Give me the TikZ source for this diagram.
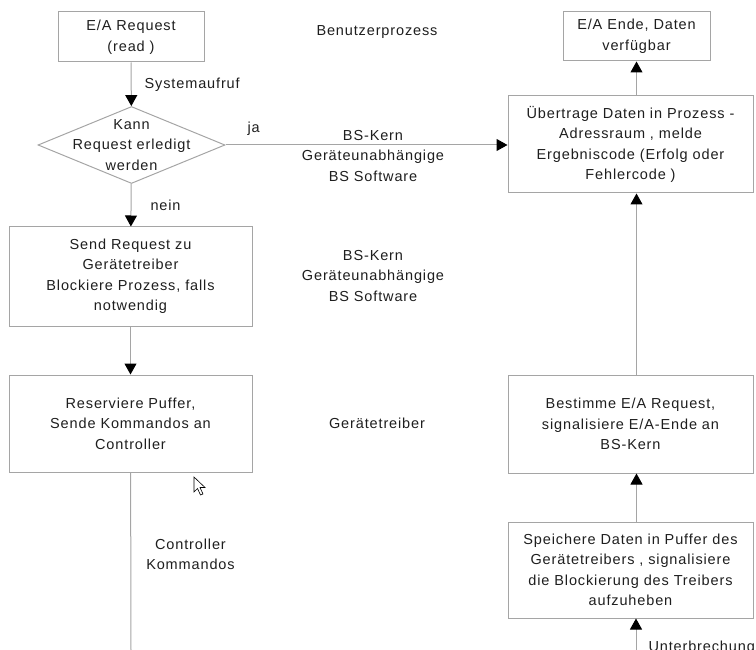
\documentclass[tikz,border=0pt]{standalone}
\usepackage{fontspec}
\setmainfont[LetterSpace=6]{Liberation Sans}
\usetikzlibrary{shapes.geometric,arrows.meta}
\definecolor{linegray}{RGB}{165,165,165}
\definecolor{textgray}{RGB}{30,30,30}
\begin{document}
\begin{tikzpicture}[x=1pt, y=-1pt, line width=1pt,
    >={Triangle[width=12pt,length=11pt,color=black]},
    every node/.style={text=textgray, font=\fontsize{14.5}{20.5}\selectfont, align=center, inner sep=0pt},
    box/.style={draw=linegray, rectangle},
    decision/.style={draw=linegray, diamond, minimum width=187pt, minimum height=77pt},
    label/.style={draw=none}]
    \useasboundingbox (0,0) rectangle (756,650);

    % linke Spalte
    \node[box, minimum width=146pt, minimum height=50pt] (req) at (131,37) {E/A Request\\(read )};
    \node[decision] (ask) at (131.5,145) {};
    \node (asktext) at (ask) {Kann\\Request erledigt\\werden};
    \node[box, minimum width=243pt, minimum height=99pt] (send) at (130.5,276.5) {Send Request zu\\Gerätetreiber\\Blockiere Prozess, falls\\notwendig};
    \node[box, minimum width=243pt, minimum height=97pt] (res) at (130.5,423.5) {Reserviere Puffer,\\Sende Kommandos an\\Controller};
    \coordinate (ctl) at (131,650);

    % rechte Spalte
    \node[box, minimum width=147pt, minimum height=49pt] (ende) at (636.5,36.5) {E/A Ende, Daten\\verfügbar};
    \node[box, minimum width=245pt, minimum height=97pt] (ueb) at (630.5,144.5) {Übertrage Daten in Prozess -\\Adressraum , melde\\Ergebniscode (Erfolg oder\\Fehlercode )};
    \node[box, minimum width=245pt, minimum height=98pt] (best) at (630.5,424) {Bestimme E/A Request,\\signalisiere E/A-Ende an\\BS-Kern};
    \node[box, minimum width=245pt, minimum height=96pt] (spei) at (630.5,570) {Speichere Daten in Puffer des\\Gerätetreibers , signalisiere\\die Blockierung des Treibers\\aufzuheben};
    \coordinate (irq) at (636,650);

    % Ebenen
    \node[label] (l1) at (377,32) {Benutzerprozess};
    \node[label] (l2) at (373,156) {BS-Kern\\Geräteunabhängige\\BS Software};
    \node[label] (l3) at (373,276) {BS-Kern\\Geräteunabhängige\\BS Software};
    \node[label] (l4) at (377,423) {Gerätetreiber};

    \path[draw=linegray, ->]
          (req) edge node[right=13pt, label] {Systemaufruf} (ask)
          (ask.east) edge node[pos=0.1, above=9pt, label] {ja} (ask.east -| ueb.west)
          (ask) edge node[right=19pt, label] {nein} (send)
          (send) edge (res)
          (best.north -| ende) edge (ueb.south -| ende)
          (ueb.north -| ende) edge (ende)
          (spei.north -| ende) edge (best.south -| ende)
          (irq) edge node[pos=0.06, right=12pt, anchor=west, label] {Unterbrechung} (spei.south -| irq);
    \draw[linegray] (res) -- (ctl) node[pos=0.46, right=15pt, label] (ctltext) {Controller\\Kommandos};

    % Mauszeiger
    \filldraw[fill=white, draw=black, line width=0.6pt] (194,477) -- ++(0,15) -- ++(3.5,-3.5) -- ++(3,6.5) -- ++(2.5,-1) -- ++(-3,-6.5) -- ++(5,0) -- cycle;
\end{tikzpicture}
\end{document}
